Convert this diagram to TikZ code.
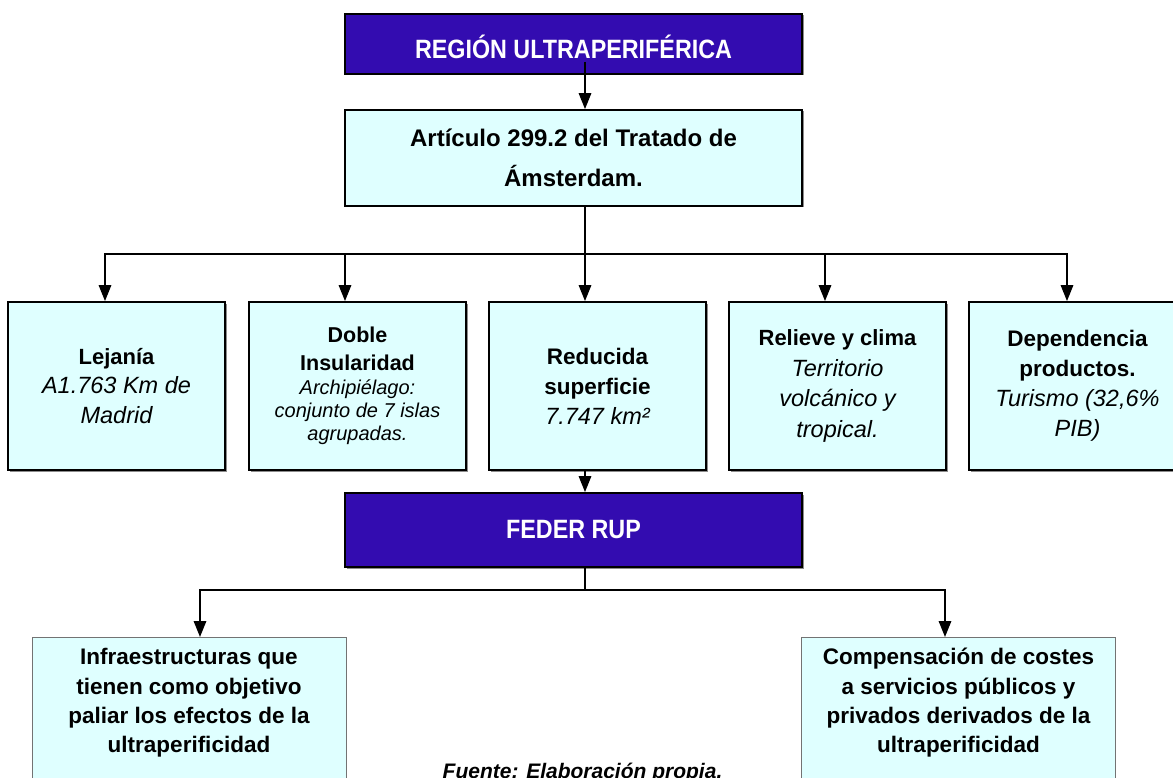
\documentclass[tikz,border=0pt]{standalone}
\usepackage{fontspec}
\setmainfont{Liberation Sans}
\newfontfamily\condfont[FakeStretch=0.88]{Liberation Sans}
\usetikzlibrary{arrows.meta,shadows}
\definecolor{dkblue}{RGB}{51,12,176}
\definecolor{ltcyan}{RGB}{223,255,255}
\newcommand\boldln[2]{{\bfseries\fontsize{#1}{30}\selectfont #2}}
\newcommand\itln[2]{{\itshape\fontsize{#1}{30}\selectfont #2}}
\begin{document}
\begin{tikzpicture}[x=1pt,y=-1pt,
  shad/.style={drop shadow={shadow xshift=1.5pt,shadow yshift=-1.5pt,fill=black!45,opacity=1}},
  darkbox/.style={draw=black,line width=1.8pt,fill=dkblue,minimum width=457pt,inner sep=0pt,shad,
    text=white,font=\condfont\bfseries\fontsize{26.5}{30}\selectfont},
  lightbox/.style={draw=black,line width=1.8pt,fill=ltcyan,inner sep=0pt,shad,align=center},
  featbox/.style={lightbox,minimum width=217pt,minimum height=168pt,font=\fontsize{22}{30}\selectfont},
  lowbox/.style={draw=black!55,line width=0.9pt,fill=ltcyan,minimum width=314pt,minimum height=175pt,inner sep=0pt},
  lowtext/.style={align=center,inner sep=0pt,font=\bfseries\fontsize{22.5}{29.3}\selectfont},
  conn/.style={line width=1.6pt,draw=black},
  arr/.style={conn,-{Triangle[length=16pt,width=12.5pt]}}
]
\useasboundingbox (0,0) rectangle (1173,778);

% top boxes
\node[darkbox,minimum height=60pt] (top) at (573.5,44) {};
\node[text=white,font=\condfont\bfseries\fontsize{26.5}{30}\selectfont,inner sep=0pt,anchor=base] (toptxt) at (573.5,59) {REGIÓN ULTRAPERIFÉRICA};
\node[lightbox,minimum width=457pt,minimum height=96pt,font=\bfseries\fontsize{24}{40}\selectfont] (art) at (573.5,158)
  {Artículo 299.2 del Tratado de\\Ámsterdam.};

% five feature boxes
\node[featbox,font=\fontsize{22}{29.5}\selectfont] (lej) at (116.5,386)
  {\boldln{22}{Lejanía}\\\itln{23.5}{A1.763 Km de}\\\itln{23.5}{Madrid}};
\node[featbox,font=\fontsize{20}{23}\selectfont] (dob) at (357.5,386)
  {\boldln{21.5}{Doble}\\[4.5pt]\boldln{21.5}{Insularidad}\\[1.5pt]\itln{20}{Archipiélago:}\\\itln{20}{conjunto de 7 islas}\\\itln{20}{agrupadas.}};
\node[featbox] (red) at (597.5,386)
  {\boldln{22.5}{Reducida}\\\boldln{22.5}{superficie}\\\itln{23.5}{7.747 km²}};
\node[featbox,font=\fontsize{22}{30.5}\selectfont] (rel) at (837.5,386)
  {\boldln{22}{Relieve y clima}\\\itln{23.5}{Territorio}\\\itln{23.5}{volcánico y}\\\itln{23.5}{tropical.}};
\node[featbox] (dep) at (1077.5,386)
  {\boldln{22.5}{Dependencia}\\\boldln{22.5}{productos.}\\\itln{23.5}{Turismo (32,6\%}\\\itln{23.5}{PIB)}};

% FEDER
\node[darkbox,minimum height=74pt] (feder) at (573.5,530) {FEDER RUP};

% bottom boxes
\node[lowbox,anchor=north] (infra) at (189,637) {};
\node[lowtext] (infratxt) at (189,703) {Infraestructuras que\\tienen como objetivo\\paliar los efectos de la\\ultraperificidad};
\node[lowbox,anchor=north] (comp) at (958.5,637) {};
\node[lowtext] (comptxt) at (958.5,703) {Compensación de costes\\a servicios públicos y\\privados derivados de la\\ultraperificidad};

\node[anchor=base,inner sep=0pt,font=\bfseries\itshape\fontsize{21}{25}\selectfont] (fuente) at (582.5,778) {Fuente: Elaboración propia.};

% connectors
\draw[arr] ([xshift=11.5pt,yshift=-18pt]top.center) -- ([xshift=11.5pt]art.north);
\coordinate (hubA) at (585,254);
\draw[conn] ([xshift=11.5pt]art.south) -- (hubA);
\draw[arr] (hubA) -| ([xshift=-11.5pt]lej.north);
\draw[arr] (hubA) -| ([xshift=-12.5pt]dob.north);
\draw[arr] (hubA) -- ([xshift=-12.5pt]red.north);
\draw[arr] (hubA) -| ([xshift=-12.5pt]rel.north);
\draw[arr] (hubA) -| ([xshift=-10.5pt]dep.north);
\draw[arr] ([xshift=-12.5pt]red.south) -- ([xshift=11.5pt]feder.north);
\coordinate (hubB) at (585,590);
\draw[conn] ([xshift=11.5pt]feder.south) -- (hubB);
\draw[arr] (hubB) -| ([xshift=11pt]infra.north);
\draw[arr] (hubB) -| ([xshift=-13.5pt]comp.north);
\end{tikzpicture}
\end{document}
